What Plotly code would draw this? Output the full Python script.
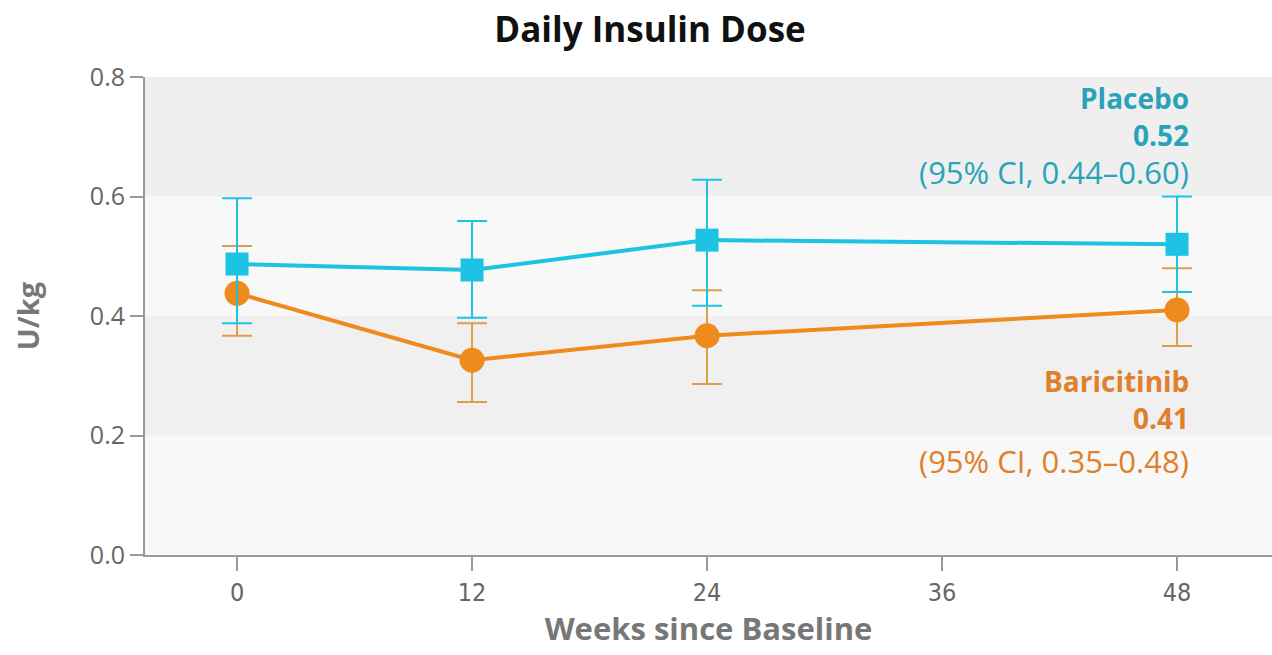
import plotly.graph_objects as go

weeks = [0, 12, 24, 48]

placebo_mean = [0.487, 0.477, 0.527, 0.52]
placebo_lo = [0.388, 0.397, 0.417, 0.44]
placebo_hi = [0.597, 0.559, 0.628, 0.60]

bari_mean = [0.438, 0.326, 0.367, 0.41]
bari_lo = [0.367, 0.256, 0.286, 0.35]
bari_hi = [0.517, 0.388, 0.443, 0.48]

x_ticks = [0, 12, 24, 36, 48]
y_ticks = [0.0, 0.2, 0.4, 0.6, 0.8]

CYAN = "#1cc3e3"
CYAN_TXT = "#2aa3ba"
ORANGE = "#ef8a1c"
ORANGE_ERR = "#d9a049"
ORANGE_TXT = "#e07f2c"
GRAY = "#777777"
NARROW = "Liberation Sans Narrow, DejaVu Sans Condensed, Roboto, sans-serif"
SANS = "Open Sans, Lato, sans-serif"

fig = go.Figure()

# alternating horizontal bands
band_colors = ["#f8f8f8", "#f0f0f0", "#f8f8f8", "#efefef"]
for i, c in enumerate(band_colors):
    fig.add_shape(type="rect", xref="paper", yref="y", x0=0, x1=1,
                  y0=y_ticks[i], y1=y_ticks[i + 1], fillcolor=c,
                  line=dict(width=0), layer="below")


def err(mean, lo, hi):
    return dict(type="data", symmetric=False,
                array=[h - m for h, m in zip(hi, mean)],
                arrayminus=[m - l for m, l in zip(mean, lo)])


fig.add_trace(go.Scatter(
    x=weeks, y=bari_mean, mode="lines+markers", name="Baricitinib",
    line=dict(color=ORANGE, width=4),
    marker=dict(symbol="circle", size=25, color=ORANGE),
    error_y=dict(**err(bari_mean, bari_lo, bari_hi), color=ORANGE_ERR,
                 thickness=2, width=15),
))
fig.add_trace(go.Scatter(
    x=weeks, y=placebo_mean, mode="lines+markers", name="Placebo",
    line=dict(color=CYAN, width=4),
    marker=dict(symbol="square", size=23, color=CYAN),
    error_y=dict(**err(placebo_mean, placebo_lo, placebo_hi), color=CYAN,
                 thickness=2, width=15),
))


def label(yv, text, bold, color):
    fig.add_annotation(
        x=48.72, y=yv, xref="x", yref="y", showarrow=False,
        xanchor="right", yanchor="middle", align="right",
        text=f"<b>{text}</b>" if bold else text,
        font=dict(family=SANS, size=28 if bold else 31, color=color))


label(0.765, "Placebo", True, CYAN_TXT)
label(0.703, f"{placebo_mean[-1]:.2f}", True, CYAN_TXT)
label(0.641, f"(95% CI, {placebo_lo[-1]:.2f}–{placebo_hi[-1]:.2f})", False, CYAN_TXT)
label(0.291, "Baricitinib", True, ORANGE_TXT)
label(0.229, f"{bari_mean[-1]:.2f}", True, ORANGE_TXT)
label(0.157, f"(95% CI, {bari_lo[-1]:.2f}–{bari_hi[-1]:.2f})", False, ORANGE_TXT)

fig.update_layout(
    width=1272, height=655,
    margin=dict(l=145, r=0, t=77, b=100),
    paper_bgcolor="white", plot_bgcolor="white",
    showlegend=False,
    title=dict(text="<b>Daily Insulin Dose</b>", x=650 / 1272, xanchor="center",
               y=0.955, yanchor="middle",
               font=dict(family=SANS, size=35, color="#111111")),
    xaxis=dict(range=[-4.7, 52.85], tickvals=x_ticks, ticks="outside",
               ticklen=14, tickwidth=2, tickcolor="#999999",
               showgrid=False, zeroline=False, showline=True,
               linecolor="#999999", linewidth=2,
               tickfont=dict(family=NARROW, size=25, color="#666666"),
               title=dict(text="<b>Weeks since Baseline</b>", standoff=12,
                          font=dict(family=SANS, size=31, color=GRAY))),
    yaxis=dict(range=[0, 0.8], tickvals=y_ticks, tickformat=".1f",
               ticks="outside", ticklen=13, tickwidth=2, tickcolor="#999999",
               showgrid=False, zeroline=False, showline=True,
               linecolor="#999999", linewidth=2,
               tickfont=dict(family=SANS, size=25, color="#666666"),
               title=dict(text="<b>U/kg</b>", standoff=42,
                          font=dict(family=SANS, size=29, color=GRAY))),
)

fig.write_html("out.html")
